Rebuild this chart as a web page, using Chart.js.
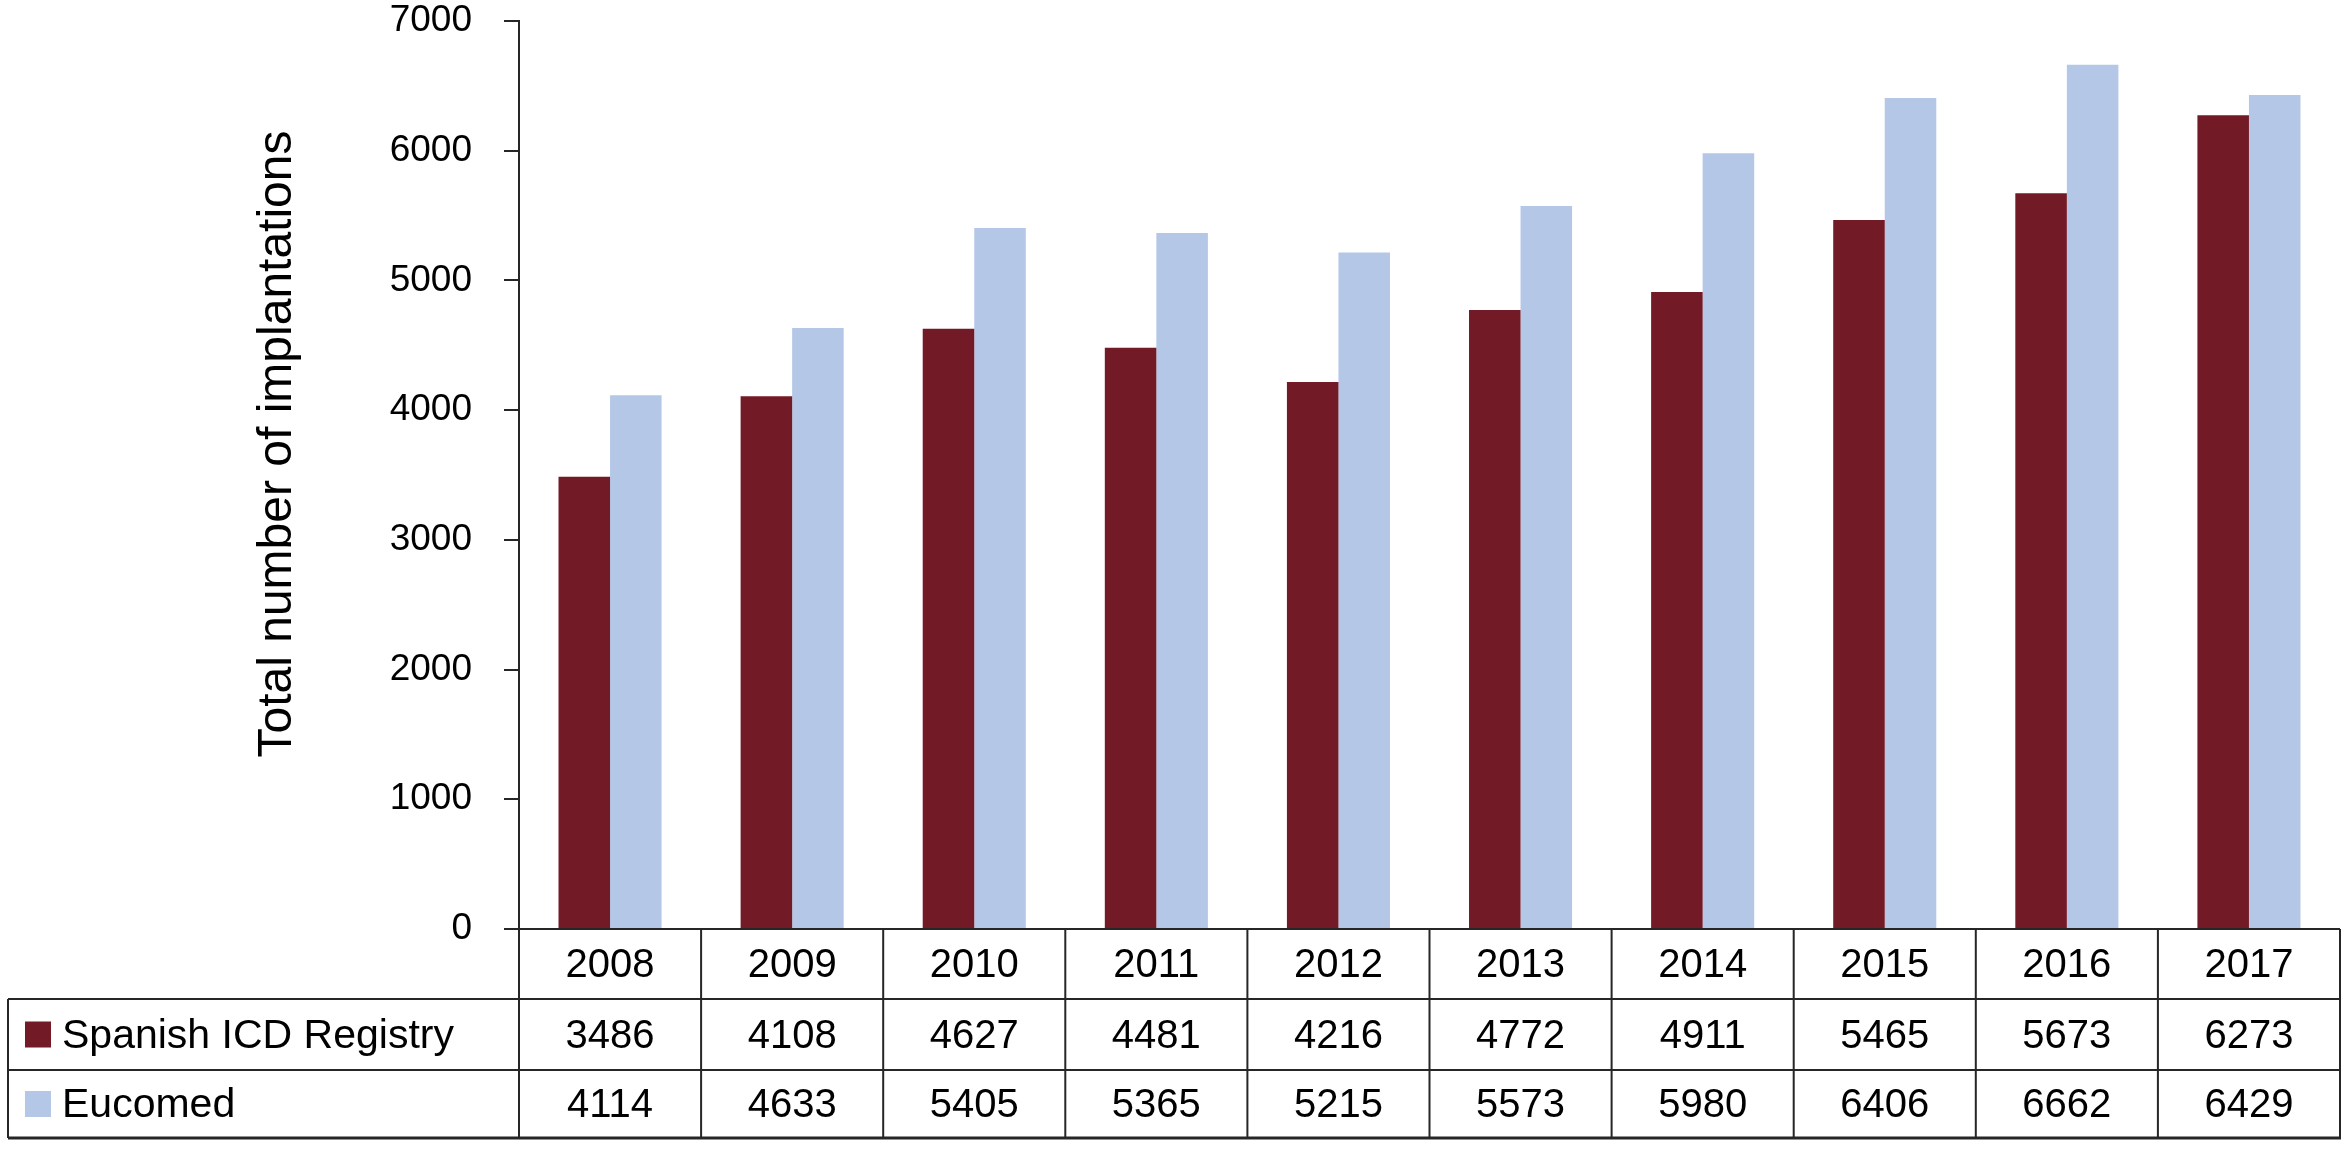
<!DOCTYPE html>
<html>
<head>
<meta charset="utf-8">
<script src="https://cdn.jsdelivr.net/npm/chart.js@4.4.1/dist/chart.umd.min.js"></script>
<style>
  html, body { margin: 0; padding: 0; background: #fff; }
  canvas { display: block; }
</style>
</head>
<body>
<canvas id="implantChart" width="2346" height="1152"></canvas>
<script>
// Chart values
const years = ["2008", "2009", "2010", "2011", "2012", "2013", "2014", "2015", "2016", "2017"];
const spanishRegistry = [3486, 4108, 4627, 4481, 4216, 4772, 4911, 5465, 5673, 6273];
const eucomed = [4114, 4633, 5405, 5365, 5215, 5573, 5980, 6406, 6662, 6429];
const seriesNames = ["Spanish ICD Registry", "Eucomed"];
const seriesColors = ["#731A27", "#B4C7E7"];

const FONT = "'Liberation Sans', Arial, sans-serif";
const LINE = "#262626";

// data table under the bars, columns follow the x scale
const dataTable = {
    id: "dataTable",
    afterDraw(chart) {
        const ctx = chart.ctx;
        const x = chart.scales.x;
        const area = chart.chartArea;
        const half = (x.getPixelForValue(1) - x.getPixelForValue(0)) / 2;
        const rows = [area.bottom, area.bottom + 70, area.bottom + 141, area.bottom + 209];
        const leftEdge = 8;

        ctx.save();
        ctx.strokeStyle = LINE;
        ctx.lineWidth = 2;

        // horizontal lines
        ctx.beginPath();
        ctx.moveTo(area.left, rows[0]); ctx.lineTo(area.right, rows[0]);
        ctx.moveTo(leftEdge, rows[1]); ctx.lineTo(area.right, rows[1]);
        ctx.moveTo(leftEdge, rows[2]); ctx.lineTo(area.right, rows[2]);
        ctx.stroke();
        ctx.lineWidth = 3;
        ctx.beginPath();
        ctx.moveTo(leftEdge, rows[3]); ctx.lineTo(area.right + 1, rows[3]);
        ctx.stroke();

        // vertical lines
        ctx.lineWidth = 2;
        ctx.beginPath();
        ctx.moveTo(leftEdge, rows[1]); ctx.lineTo(leftEdge, rows[3]);
        years.forEach((y, i) => {
            const px = x.getPixelForValue(i) - half;
            ctx.moveTo(px, rows[0]); ctx.lineTo(px, rows[3]);
        });
        ctx.moveTo(area.right, rows[0]); ctx.lineTo(area.right, rows[3]);
        ctx.stroke();

        // texts
        ctx.fillStyle = "#000";
        ctx.textAlign = "center";
        ctx.textBaseline = "middle";
        ctx.font = "40px " + FONT;
        const allSeries = [spanishRegistry, eucomed];
        years.forEach((y, i) => {
            const cx = x.getPixelForValue(i);
            ctx.fillText(y, cx, (rows[0] + rows[1]) / 2 + 2);
            allSeries.forEach((s, r) => {
                ctx.fillText(String(s[i]), cx, (rows[r + 1] + rows[r + 2]) / 2 + 2);
            });
        });

        // row labels with legend keys
        ctx.textAlign = "left";
        ctx.font = "41px " + FONT;
        seriesNames.forEach((name, r) => {
            const cy = (rows[r + 1] + rows[r + 2]) / 2;
            ctx.fillStyle = seriesColors[r];
            ctx.fillRect(25, cy - 13, 26, 26);
            ctx.fillStyle = "#000";
            ctx.fillText(name, 62, cy + 2);
        });

        // y axis title
        ctx.translate(278, 444);
        ctx.rotate(-Math.PI / 2);
        ctx.textAlign = "center";
        ctx.font = "48px " + FONT;
        ctx.fillText("Total number of implantations", 0, 0);
        ctx.restore();
    }
};

new Chart(document.getElementById("implantChart"), {
    type: "bar",
    data: {
        labels: years,
        datasets: [
            { label: seriesNames[0], data: spanishRegistry, backgroundColor: seriesColors[0] },
            { label: seriesNames[1], data: eucomed, backgroundColor: seriesColors[1] }
        ]
    },
    options: {
        responsive: false,
        animation: false,
        devicePixelRatio: 1,
        layout: { padding: { left: 0, right: 6, top: 21, bottom: 223 } },
        datasets: { bar: { barPercentage: 1.0, categoryPercentage: 0.566 } },
        plugins: { legend: { display: false }, tooltip: { enabled: false } },
        scales: {
            x: { display: false },
            y: {
                min: 0,
                max: 7000,
                afterFit(scale) {
                    scale.width = 519;
                    scale.paddingTop = 0;
                    scale.paddingBottom = 0;
                },
                ticks: {
                    stepSize: 1000,
                    padding: 32,
                    color: "#000",
                    font: { family: FONT, size: 37 },
                    callback: (v) => String(v)
                },
                grid: {
                    drawOnChartArea: false,
                    drawTicks: true,
                    tickLength: 15,
                    color: LINE,
                    lineWidth: 2
                },
                border: { display: true, color: LINE, width: 2 }
            }
        }
    },
    plugins: [dataTable]
});
</script>
</body>
</html>
